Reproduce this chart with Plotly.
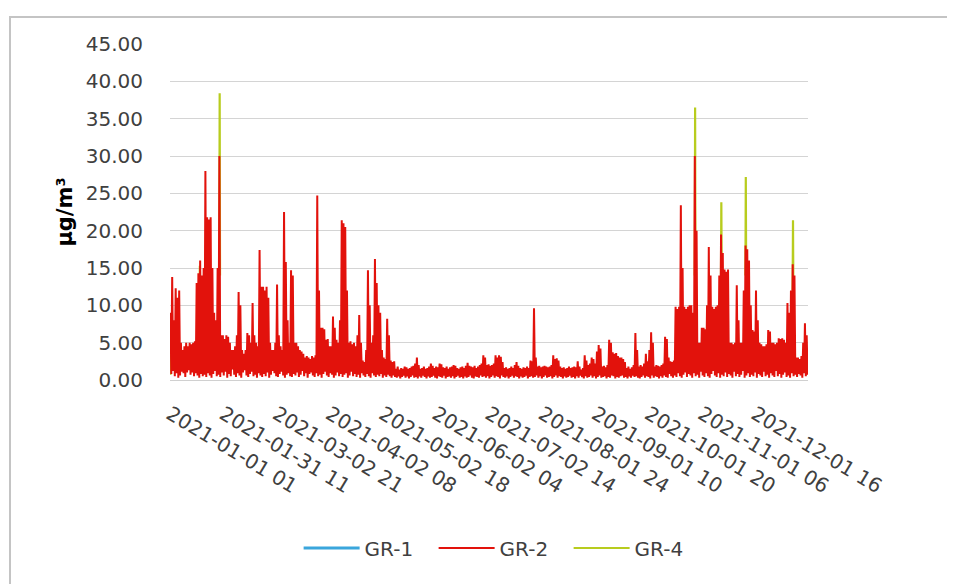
import plotly.graph_objects as go

# ---- data ----
# x-axis category labels (every 730 hourly records)
tick_labels = ["2021-01-01 01", "2021-01-31 11", "2021-03-02 21", "2021-04-02 08",
               "2021-05-02 18", "2021-06-02 04", "2021-07-02 14", "2021-08-01 24",
               "2021-09-01 10", "2021-10-01 20", "2021-11-01 06", "2021-12-01 16"]
tick_step = 730
n_hours = 8760

# GR-2: daily maximum (µg/m³), day 0..364
gr2_day_max = [
    9, 13.8, 8, 12.3, 11, 12, 5, 4, 4.5, 5,
    4.5, 5, 4.8, 5, 5.2, 13, 14.3, 16, 14, 15,
    28, 21.8, 21.5, 21.8, 15, 9, 8, 15, 30, 6,
    6, 5.5, 6, 5.8, 5, 4, 4, 4.5, 6, 11.8,
    10, 4, 3.5, 4, 6.3, 6, 5, 10.3, 6, 5,
    4.5, 17.4, 12.5, 12.5, 12, 12.5, 11, 5, 4, 4,
    5, 12.8, 6, 4.5, 4, 22.5, 15.8, 8, 5, 14.7,
    14, 5, 5, 4.5, 4, 3.8, 3.5, 3, 3.2, 3,
    2.8, 3.2, 3, 3.3, 24.7, 12, 7, 7, 6.8, 5.4,
    5.5, 4.5, 4.5, 8.5, 7, 5.4, 5, 8, 21.4, 21,
    20.5, 12, 5, 5.2, 4.8, 5, 4.5, 6, 8.7, 5,
    2.6, 2.4, 4, 14.7, 10, 5, 6, 16.2, 13, 10,
    9, 4, 3, 2.8, 8.2, 6, 2.6, 2.4, 2.5, 1.5,
    1.8, 1.4, 1.6, 1.5, 1.8, 1.7, 1.5, 1.6, 1.8, 1.9,
    2.2, 3, 2, 1.5, 1.6, 1.8, 1.5, 1.6, 1.8, 2.2,
    1.9, 1.6, 1.8, 1.7, 2.2, 2.1, 1.7, 1.6, 1.8, 1.5,
    1.7, 1.8, 2.0, 1.9, 1.6, 1.5, 1.7, 1.8, 1.6, 1.9,
    2.3, 1.9, 1.8, 1.7, 1.9, 1.6, 1.8, 2.0, 2.2, 3.3,
    3.0, 2, 2.1, 1.9, 2.0, 2.2, 3.3, 3.0, 3.3, 3.1,
    2.4, 1.6, 1.7, 1.5, 1.6, 1.8, 1.6, 2.0, 2.4, 1.9,
    1.6, 1.5, 1.7, 1.6, 1.8, 1.6, 2.6, 2.5, 9.6, 3,
    1.8, 1.9, 1.7, 1.8, 1.9, 1.8, 1.7, 1.8, 2.0, 3.3,
    2.8, 2.9, 2.6, 1.8, 1.6, 1.7, 1.5, 1.6, 1.8, 1.6,
    1.7, 1.8, 1.7, 2.5, 1.8, 1.4, 1.6, 3.3, 2.6, 2.0,
    2.2, 3.0, 2.8, 2.2, 3.8, 4.7, 4.2, 1.8, 1.9, 1.7,
    2.0, 5.4, 5, 3.7, 3.5, 3.6, 3.2, 3.0, 3.0, 2.8,
    2.4, 1.6, 1.8, 1.5, 1.7, 2.0, 6.3, 4, 1.8, 2.0,
    1.8, 2.2, 3.5, 2.5, 4, 6.4, 5, 1.8, 2.0, 1.9,
    1.8, 2.0, 2.2, 5.8, 5.5, 3, 2.5, 2.4, 2.6, 9.8,
    9.5, 9.8, 23.4, 15, 9.8, 9.5, 9.8, 10, 10, 9,
    30, 20, 5, 5, 7, 7, 6.8, 10, 17.8, 14,
    9.8, 9.5, 9.8, 10, 14, 19.5, 17, 14.8, 14.5, 14.8,
    5, 5, 4.8, 5, 12.7, 8, 5, 5, 12, 18,
    17.5, 16, 10, 6.7, 6.5, 12, 8, 5, 4.8, 4.5,
    4.5, 4.8, 6.7, 6.5, 5, 5, 4.8, 5, 5.6, 5.5,
    5.6, 5.4, 5, 10.3, 9, 12, 15.5, 14, 3, 3,
    2.8, 3.2, 5, 7.6, 6,
]

# GR-2: daily minimum (µg/m³), day 0..364
gr2_day_min = [
    0.8, 1.2, 0.5, 0.9, 0.3, 0.6, 1.1, 0.9, 0.4, 1.0,
    1.3, 0.7, 1.0, 0.5, 0.9, 0.6, 0.3, 0.8, 0.5, 0.7,
    0.4, 0.9, 0.6, 0.3, 0.8, 1.2, 0.5, 0.7, 0.4, 1.0,
    0.6, 1.1, 0.3, 0.8, 0.5, 1.4, 0.7, 0.4, 0.9, 0.6,
    0.3, 1.0, 1.3, 0.6, 0.4, 0.8, 1.1, 0.5, 0.7, 0.3,
    0.9, 0.6, 0.4, 0.8, 0.5, 1.0, 0.3, 0.7, 1.2, 0.9,
    0.5, 0.4, 0.8, 1.1, 0.6, 0.3, 0.7, 0.9, 0.5, 0.4,
    0.8, 0.6, 1.0, 0.4, 0.7, 1.2, 0.5, 0.9, 0.3, 0.8,
    1.0, 0.6, 0.4, 0.9, 0.5, 0.7, 0.3, 0.8, 1.1, 0.6,
    0.4, 0.9, 0.7, 0.3, 0.6, 1.0, 0.5, 0.8, 0.4, 0.7,
    0.9, 0.3, 0.6, 1.1, 0.5, 0.8, 0.4, 0.7, 0.3, 0.9,
    0.6, 0.4, 0.8, 0.5, 0.3, 0.9, 0.6, 0.4, 0.7, 0.5,
    0.8, 0.3, 0.6, 0.4, 0.7, 0.5, 0.3, 0.6, 0.4, 0.3,
    0.5, 0.2, 0.4, 0.6, 0.3, 0.5, 0.2, 0.4, 0.6, 0.3,
    0.4, 0.2, 0.5, 0.3, 0.6, 0.4, 0.2, 0.5, 0.3, 0.4,
    0.6, 0.3, 0.2, 0.5, 0.4, 0.3, 0.6, 0.2, 0.4, 0.5,
    0.3, 0.5, 0.2, 0.4, 0.6, 0.3, 0.4, 0.2, 0.5, 0.3,
    0.4, 0.6, 0.3, 0.2, 0.5, 0.4, 0.3, 0.6, 0.4, 0.5,
    0.3, 0.5, 0.2, 0.4, 0.6, 0.3, 0.5, 0.4, 0.2, 0.6,
    0.4, 0.3, 0.5, 0.2, 0.4, 0.6, 0.3, 0.5, 0.4, 0.2,
    0.5, 0.3, 0.4, 0.6, 0.2, 0.4, 0.5, 0.3, 0.4, 0.6,
    0.3, 0.5, 0.2, 0.4, 0.6, 0.3, 0.4, 0.5, 0.2, 0.4,
    0.6, 0.3, 0.5, 0.4, 0.2, 0.5, 0.3, 0.4, 0.6, 0.3,
    0.4, 0.2, 0.5, 0.3, 0.6, 0.4, 0.2, 0.5, 0.3, 0.4,
    0.6, 0.3, 0.5, 0.2, 0.4, 0.6, 0.3, 0.4, 0.5, 0.2,
    0.4, 0.3, 0.6, 0.5, 0.2, 0.4, 0.3, 0.5, 0.6, 0.3,
    0.4, 0.2, 0.5, 0.3, 0.6, 0.4, 0.5, 0.3, 0.2, 0.4,
    0.6, 0.3, 0.5, 0.4, 0.2, 0.6, 0.3, 0.5, 0.4, 0.2,
    0.5, 0.3, 0.6, 0.4, 0.3, 0.8, 0.5, 0.3, 0.6, 0.4,
    0.9, 0.5, 0.3, 0.7, 1.0, 0.4, 0.8, 0.6, 0.3, 0.9,
    0.5, 0.7, 0.3, 1.1, 0.6, 0.4, 0.9, 0.5, 0.3, 0.8,
    1.2, 0.6, 0.4, 0.9, 0.3, 0.7, 0.5, 1.0, 0.4, 0.8,
    0.6, 0.3, 1.1, 0.5, 0.8, 0.4, 0.7, 1.2, 0.3, 0.6,
    0.9, 0.4, 0.7, 0.5, 1.0, 0.3, 0.8, 0.6, 0.4, 1.1,
    0.5, 0.7, 0.3, 0.9, 0.6, 0.4, 1.2, 0.5, 0.8, 0.3,
    0.7, 1.0, 0.4, 0.6, 0.3, 0.9, 0.5, 0.7, 0.4, 0.8,
    0.6, 0.3, 0.9, 0.5, 0.7,
]

# GR-4: episodes where it shows above GR-2 (record index of the peak)
gr4_peak_hour = [1, 410, 682, 7210, 7570, 7906, 8554]
gr4_peak = [3.4, 15.3, 38.4, 36.5, 23.8, 27.2, 21.4]
gr4_base = [0.7, 12.0, 14.0, 14.0, 14.0, 14.0, 12.0]

# GR-1: completely hidden under the other series in the picture
gr1_x, gr1_y = [None], [None]

# ---- build plotted series ----
gr2_x, gr2_y = [], []
for d, (hi, lo) in enumerate(zip(gr2_day_max, gr2_day_min)):
    gr2_x += [d * 24 + 6, d * 24 + 18]
    gr2_y += [hi, lo]

gr4_x, gr4_y = [], []
for h, pk, bs in zip(gr4_peak_hour, gr4_peak, gr4_base):
    gr4_x += [h - 5, h, h + 5, None]
    gr4_y += [bs, pk, bs, None]

FONT = "DejaVu Sans"
TXT = "#404040"

fig = go.Figure()
fig.add_trace(go.Scatter(x=gr1_x, y=gr1_y, mode="lines", name="GR-1",
                         line=dict(color="#3aa6dc", width=3), legendrank=1))
fig.add_trace(go.Scatter(x=gr4_x, y=gr4_y, mode="lines", name="GR-4",
                         line=dict(color="#b8cc1e", width=2.2), legendrank=3))
fig.add_trace(go.Scatter(x=gr2_x, y=gr2_y, mode="lines", name="GR-2",
                         line=dict(color="#e2120c", width=2), legendrank=2))

fig.update_layout(
    width=947, height=576,
    margin=dict(l=162, r=147, t=36, b=204),
    paper_bgcolor="white", plot_bgcolor="white",
    font=dict(family=FONT, size=20, color=TXT),
    showlegend=True,
    legend=dict(orientation="h", x=0.519, xanchor="center", y=-0.5, yanchor="middle",
                font=dict(size=20, color=TXT), traceorder="normal",
                entrywidth=64, itemwidth=56, bgcolor="rgba(0,0,0,0)"),
    xaxis=dict(range=[0, n_hours], tickmode="array",
               tickvals=[i * tick_step for i in range(len(tick_labels))],
               ticktext=tick_labels, tickangle=31, showgrid=False,
               showline=True, linecolor="#d0d0d0", linewidth=1, ticks="",
               ticklabelstandoff=14,
               zeroline=False, tickfont=dict(size=20, color=TXT)),
    yaxis=dict(range=[0, 45], dtick=5, tickformat=".2f", showgrid=True,
               gridcolor="#d4d4d4", gridwidth=1, zeroline=False, showline=False,
               ticks="", ticklabelstandoff=26, tickfont=dict(size=20, color=TXT),
               title=dict(text="<b>µg/m³</b>", font=dict(size=21, color="#000000"),
                          standoff=7)),
    shapes=[dict(type="rect", xref="paper", yref="paper",
                 x0=-0.2508, x1=1.4, y0=-0.7, y1=1.08,
                 line=dict(color="#c4c4c4", width=2), layer="below")],
)

fig.write_html("out.html")
